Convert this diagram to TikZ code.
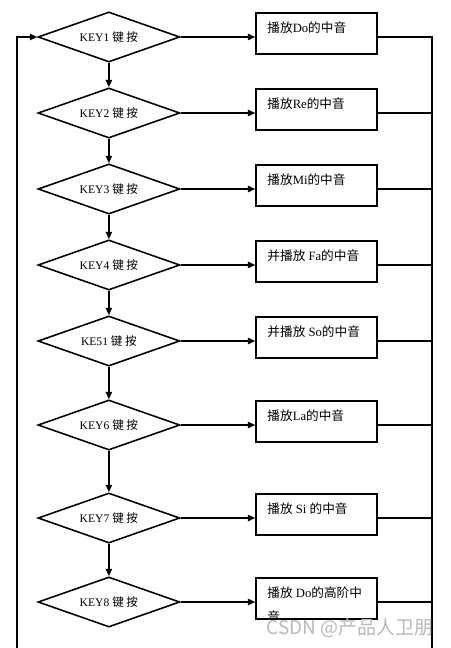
\documentclass[tikz,border=0pt]{standalone}
\usepackage{fontspec}
\setmainfont{Liberation Serif}
\newfontfamily\cjk{Noto Sans CJK SC}
\usetikzlibrary{shapes.geometric, arrows.meta, positioning, calc}

\begin{document}
\begin{tikzpicture}[
        decision/.style={diamond, draw, line width=1.5pt, minimum width=4.73cm, minimum height=1.67cm, inner sep=0pt, aspect=2.8, font=\fontsize{11}{13}\selectfont},
        box/.style={rectangle, draw, line width=1.5pt, minimum width=4.03cm, minimum height=1.37cm, inner sep=0pt},
        boxlabel/.style={anchor=north west, inner sep=0pt, align=left, font=\fontsize{12}{23}\selectfont},
        arrow/.style={-{Triangle[length=7pt, width=6pt]}, line width=1.5pt},
        line/.style={line width=1.5pt}
    ]
        \useasboundingbox (0,0) rectangle (15,-21.6);

        % Decisions
        \node[decision] (key1) at (3.63,-1.233) {KEY1 {\cjk 键 按}};
        \node[decision] (key2) at (3.63,-3.767) {KEY2 {\cjk 键 按}};
        \node[decision] (key3) at (3.63,-6.3) {KEY3 {\cjk 键 按}};
        \node[decision] (key4) at (3.63,-8.833) {KEY4 {\cjk 键 按}};
        \node[decision] (key5) at (3.63,-11.367) {KE51 {\cjk 键 按}};
        \node[decision] (key6) at (3.63,-14.167) {KEY6 {\cjk 键 按}};
        \node[decision] (key7) at (3.63,-17.267) {KEY7 {\cjk 键 按}};
        \node[decision] (key8) at (3.63,-20.067) {KEY8 {\cjk 键 按}};

        % Boxes
        \node[box] (play1) at (10.55,-1.117) {};
        \node[box] (play2) at (10.55,-3.650) {};
        \node[box] (play3) at (10.55,-6.183) {};
        \node[box] (play4) at (10.55,-8.717) {};
        \node[box] (play5) at (10.55,-11.250) {};
        \node[box] (play6) at (10.55,-14.050) {};
        \node[box] (play7) at (10.55,-17.150) {};
        \node[box] (play8) at (10.55,-19.950) {};

        % Box texts
        \node[boxlabel] (text1) at ([xshift=0.4cm, yshift=-0.32cm]play1.north west) {{\cjk 播放}Do{\cjk 的中音}};
        \node[boxlabel] (text2) at ([xshift=0.4cm, yshift=-0.32cm]play2.north west) {{\cjk 播放}Re{\cjk 的中音}};
        \node[boxlabel] (text3) at ([xshift=0.4cm, yshift=-0.32cm]play3.north west) {{\cjk 播放}Mi{\cjk 的中音}};
        \node[boxlabel] (text4) at ([xshift=0.4cm, yshift=-0.32cm]play4.north west) {{\cjk 并播放} Fa{\cjk 的中音}};
        \node[boxlabel] (text5) at ([xshift=0.4cm, yshift=-0.32cm]play5.north west) {{\cjk 并播放} So{\cjk 的中音}};
        \node[boxlabel] (text6) at ([xshift=0.4cm, yshift=-0.32cm]play6.north west) {{\cjk 播放}La{\cjk 的中音}};
        \node[boxlabel] (text7) at ([xshift=0.4cm, yshift=-0.32cm]play7.north west) {{\cjk 播放} Si {\cjk 的中音}};
        \begin{scope}
            \clip (play8.north west) rectangle (play8.south east);
            \node[boxlabel] (text8) at ([xshift=0.4cm, yshift=-0.32cm]play8.north west) {{\cjk 播放} Do{\cjk 的高阶中}\\{\cjk 音}};
        \end{scope}

        % Bus ends
        \coordinate (lbus) at (0.567,-21.6);
        \coordinate (rbus) at (14.4,-21.6);

        % Arrows down
        \draw[arrow] (key1.south) -- (key2.north);
        \draw[arrow] (key2.south) -- (key3.north);
        \draw[arrow] (key3.south) -- (key4.north);
        \draw[arrow] (key4.south) -- (key5.north);
        \draw[arrow] (key5.south) -- (key6.north);
        \draw[arrow] (key6.south) -- (key7.north);
        \draw[arrow] (key7.south) -- (key8.north);

        % Arrows to boxes
        \draw[arrow] (key1.east) -- (key1 -| play1.west);
        \draw[arrow] (key2.east) -- (key2 -| play2.west);
        \draw[arrow] (key3.east) -- (key3 -| play3.west);
        \draw[arrow] (key4.east) -- (key4 -| play4.west);
        \draw[arrow] (key5.east) -- (key5 -| play5.west);
        \draw[arrow] (key6.east) -- (key6 -| play6.west);
        \draw[arrow] (key7.east) -- (key7 -| play7.west);
        \draw[arrow] (key8.east) -- (key8 -| play8.west);

        % Return lines
        \draw[line] (key1 -| play1.east) -| (rbus);
        \draw[line] (key2 -| play2.east) -- (key2 -| rbus);
        \draw[line] (key3 -| play3.east) -- (key3 -| rbus);
        \draw[line] (key4 -| play4.east) -- (key4 -| rbus);
        \draw[line] (key5 -| play5.east) -- (key5 -| rbus);
        \draw[line] (key6 -| play6.east) -- (key6 -| rbus);
        \draw[line] (key7 -| play7.east) -- (key7 -| rbus);
        \draw[line] (key8 -| play8.east) -- (key8 -| rbus);
        \draw[arrow] (lbus) |- (key1.west);

        % Watermark
        \node[font=\cjk\fontsize{18}{21}\selectfont, text=gray!55] (mark) at (11.67,-20.93) {CSDN @产品人卫朋};
    \end{tikzpicture}
\end{document}
